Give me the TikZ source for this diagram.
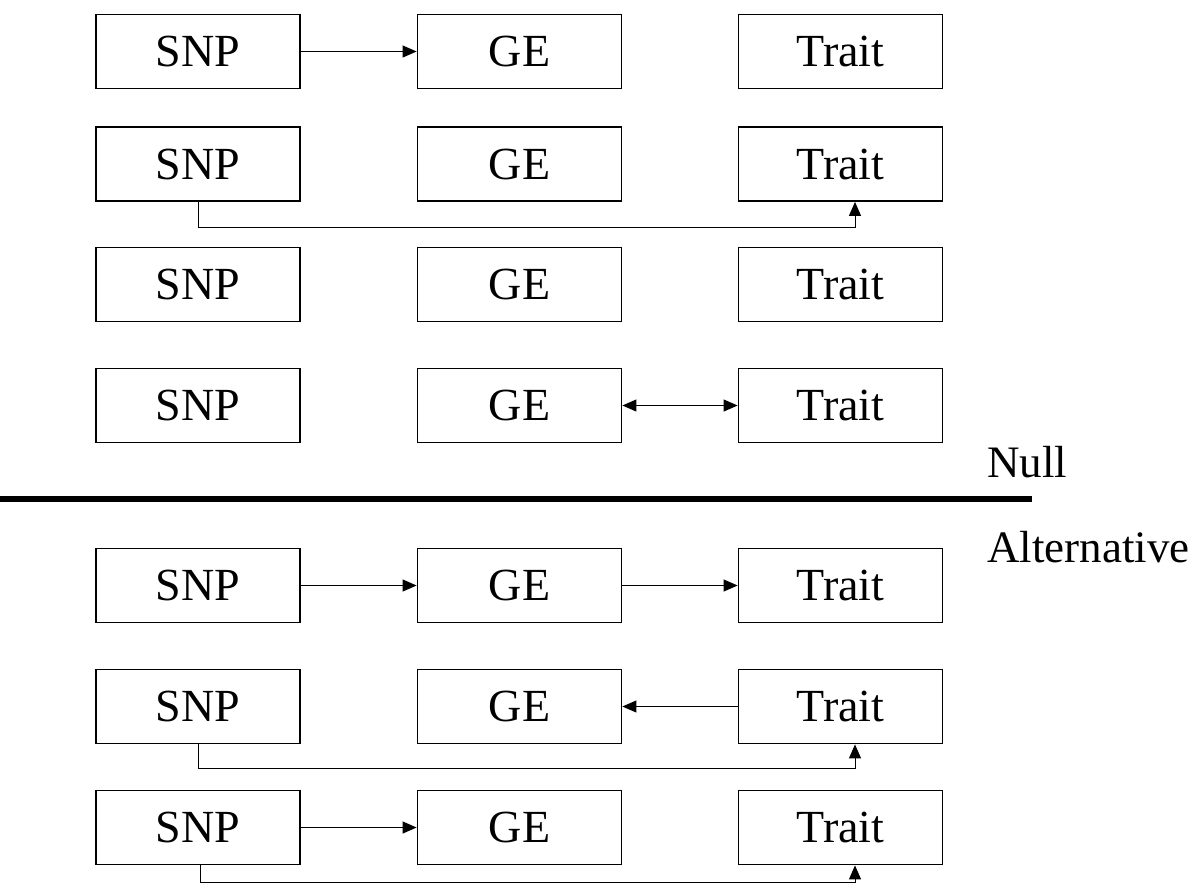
\documentclass[tikz,border=0pt]{standalone}
\usepackage{fontspec}
\setmainfont{Liberation Serif}
\usetikzlibrary{arrows.meta}
\begin{document}
\begin{tikzpicture}[x=1pt,y=-1pt,
  box/.style={draw,line width=1.8pt,minimum width=204pt,minimum height=74pt,inner sep=0pt,font=\fontsize{46}{54}\selectfont},
  tip/.tip={Triangle[length=14pt,width=12pt]},
  arr/.style={line width=1pt,-tip},
  darr/.style={line width=1pt,tip-tip},
  lbl/.style={anchor=base west,inner sep=0pt,font=\fontsize{45}{54}\selectfont}]
\useasboundingbox (0,0) rectangle (1196,884);
\foreach \i/\y in {1/51.5,2/164,3/284.5,4/405.5,5/585.5,6/706.5,7/827.5}{
  \node[box] (s\i) at (198,\y) {SNP};
  \node[box] (g\i) at (519.5,\y) {GE};
  \node[box] (t\i) at (840.5,\y) {Trait};
}
% Null rows
\draw[arr] (s1) -- (g1);
\coordinate (e2) at (855,227);
\draw[arr] (s2.south) |- (e2) -- (e2 |- t2.south);
\draw[darr] (g4) -- (t4);
% separator and labels
\coordinate (sepL) at (0,499);
\coordinate (sepR) at (1032,499);
\draw[line width=6pt] (sepL) -- (sepR);
\node[lbl] (null) at (987,477) {Null};
\node[lbl] (alt) at (987,562) {Alternative};
% Alternative rows
\draw[arr] (s5) -- (g5);
\draw[arr] (g5) -- (t5);
\draw[arr] (t6) -- (g6);
\coordinate (e6) at (855,768);
\draw[arr] (s6.south) |- (e6) -- (e6 |- t6.south);
\draw[arr] (s7) -- (g7);
\coordinate (e7) at (855,882);
\draw[arr] ([xshift=2pt]s7.south) |- (e7) -- (e7 |- t7.south);
\end{tikzpicture}
\end{document}
